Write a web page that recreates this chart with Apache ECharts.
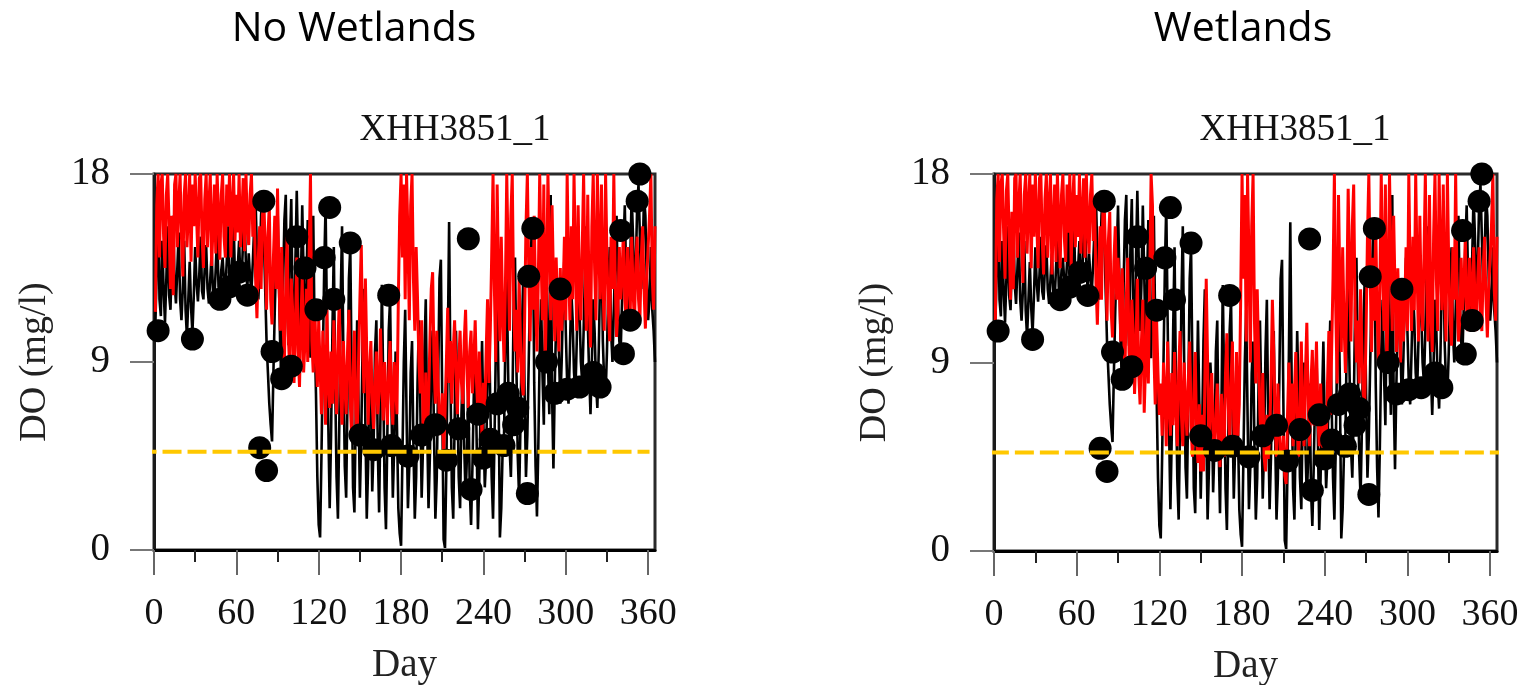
<!DOCTYPE html>
<html>
<head>
<meta charset="utf-8">
<script src="https://cdn.jsdelivr.net/npm/echarts@6/dist/echarts.min.js"></script>
<style>
  html, body { margin: 0; background: #fff; }
  #chart { width: 1530px; height: 685px; }
</style>
</head>
<body>
<div id="chart"></div>
<script>
// daily DO, black line (same in both panels), day 1..365
var black = [
  10.8, 13.5, 16.5, 12.0, 11.2, 14.8, 12.5, 10.9, 13.0, 15.5,
  12.2, 11.5, 14.0, 16.0, 12.8, 11.8, 13.5, 15.2, 12.0, 11.0,
  12.5, 14.8, 11.5, 10.2, 12.0, 13.8, 11.6, 10.4, 12.2, 14.5,
  12.8, 11.9, 13.2, 15.0, 12.4, 12.0, 13.6, 14.6, 12.5, 11.8,
  13.0, 14.2, 12.3, 12.0, 13.5, 15.2, 12.6, 12.2, 13.4, 14.0,
  12.8, 12.5, 13.8, 15.5, 13.0, 12.4, 14.0, 15.8, 13.0, 12.6,
  13.5, 14.8, 12.8, 13.2, 15.0, 16.2, 13.5, 12.5, 14.2, 13.0,
  12.4, 13.8, 15.5, 16.8, 14.2, 12.0, 13.5, 16.0, 17.2, 15.0,
  12.5, 10.0, 8.5, 7.0, 6.0, 5.2, 8.5, 11.5, 14.0, 16.5,
  13.0, 9.5, 8.0, 12.5, 15.8, 17.0, 12.0, 9.8, 14.5, 16.8,
  11.5, 9.0, 13.8, 17.2, 14.0, 10.5, 12.8, 16.5, 13.2, 10.0,
  12.5, 15.8, 11.0, 9.2, 12.0, 16.0, 10.5, 7.5, 3.5, 1.2,
  0.6, 4.5, 9.0, 13.5, 16.5, 11.0, 6.0, 2.0, 5.5, 10.5,
  14.5, 8.0, 3.5, 1.5, 6.0, 12.0, 15.5, 9.0, 4.0, 2.5,
  7.5, 13.0, 14.5, 8.5, 3.0, 1.8, 6.5, 11.0, 7.0, 2.5,
  5.5, 10.0, 12.5, 6.0, 1.5, 4.0, 9.0, 7.5, 2.8, 5.0,
  9.5, 11.0, 5.0, 1.8, 6.5, 12.7, 8.0, 3.0, 1.0, 5.5,
  10.5, 12.0, 7.0, 2.5, 5.0, 9.5, 6.0, 2.0, 0.8, 0.2,
  4.5, 9.0, 11.5, 6.5, 2.0, 4.0, 8.5, 10.0, 5.0, 1.5,
  3.5, 8.0, 11.0, 7.0, 2.5, 5.0, 9.5, 12.0, 6.0, 2.0,
  4.5, 9.0, 10.5, 5.5, 1.5, 3.5, 8.0, 13.0, 13.9, 7.0,
  0.5, 0.1, 4.0, 9.5, 15.7, 8.0, 3.0, 1.5, 6.0, 10.5,
  7.5, 3.5, 2.0, 6.5, 9.0, 5.0, 2.5, 4.5, 8.0, 3.0,
  1.2, 4.0, 7.5, 9.5, 5.5, 1.0, 3.5, 7.0, 10.0, 6.0,
  3.0, 4.5, 8.5, 11.0, 7.0, 3.5, 1.5, 5.0, 9.5, 12.5,
  8.0, 0.6, 2.0, 4.8, 5.5, 10.0, 13.0, 8.5, 5.0, 3.5,
  6.5, 11.5, 14.0, 9.0, 4.5, 2.5, 6.0, 10.5, 13.0, 7.5,
  3.5, 5.5, 9.0, 12.5, 15.0, 15.9, 8.0, 4.0, 1.6, 5.0,
  9.5, 12.0, 8.5, 6.0, 11.5, 13.5, 9.0, 6.5, 17.0, 7.5,
  3.9, 8.0, 11.0, 12.5, 9.5, 7.0, 9.0, 12.0, 14.0, 10.5,
  8.0, 7.0, 9.5, 12.5, 11.0, 8.5, 7.5, 10.0, 13.0, 11.5,
  9.0, 8.0, 10.5, 13.5, 15.5, 11.0, 8.5, 6.5, 9.0, 12.0,
  10.5, 8.0, 6.8, 9.5, 13.0, 15.0, 10.0, 8.0, 7.4, 9.5,
  12.5, 14.5, 10.5, 9.0, 11.5, 14.0, 16.0, 12.0, 10.0, 9.5,
  12.0, 14.5, 16.5, 13.0, 10.5, 11.0, 14.0, 17.0, 15.0, 12.0,
  13.5, 16.5, 17.5, 15.0, 12.5, 14.0, 17.0, 16.0, 13.0, 11.0,
  12.0, 14.5, 11.5, 10.5, 9.0
];

// daily DO, red line, "No Wetlands"
var redNoWet = [
  11.4, 16.5, 18.0, 14.0, 17.5, 18.0, 15.0, 13.5, 17.0, 18.0,
  15.5, 12.5, 16.0, 12.2, 17.5, 18.0, 14.5, 16.5, 18.0, 15.0,
  13.1, 17.0, 18.0, 14.5, 16.0, 18.0, 13.8, 17.5, 15.5, 18.0,
  16.0, 14.0, 17.8, 18.0, 15.0, 13.5, 16.8, 18.0, 14.5, 16.5,
  18.0, 13.6, 15.5, 17.5, 14.2, 18.0, 16.0, 13.9, 17.0, 18.0,
  15.0, 14.0, 17.5, 15.5, 18.0, 14.0, 16.5, 18.0, 14.8, 17.0,
  15.2, 18.0, 14.5, 16.0, 17.8, 14.3, 18.0, 15.5, 14.6, 17.0,
  18.0, 15.0, 16.5, 13.0, 11.1, 14.0, 15.5, 12.5, 16.0, 16.8,
  14.5, 11.5, 15.0, 16.5, 12.0, 10.8, 14.0, 16.0, 12.5, 17.3,
  13.0, 10.5, 14.5, 11.0, 9.0, 12.5, 15.0, 10.0, 8.5, 13.0,
  11.5, 8.0, 10.5, 14.0, 9.5, 7.8, 11.0, 13.0, 8.5, 10.0,
  12.5, 9.0, 14.0, 18.0, 10.0, 8.5, 12.0, 9.5, 7.8, 11.0,
  8.8, 6.5, 10.5, 9.0, 6.0, 11.5, 8.0, 6.8, 9.5, 7.0,
  11.0, 8.5, 6.5, 9.8, 12.0, 7.5, 6.0, 10.0, 8.0, 6.5,
  9.5, 11.5, 7.0, 5.5, 8.5, 10.5, 6.5, 5.0, 9.0, 12.0,
  14.6, 10.0, 7.5, 13.0, 9.5, 6.0, 8.5, 10.0, 7.0, 5.8,
  8.0, 9.5, 6.5, 7.5, 10.6, 8.0, 6.2, 9.0, 7.5, 6.0,
  8.5, 10.0, 7.0, 6.0, 9.0, 8.0, 6.5, 12.0, 16.0, 18.0,
  14.0, 17.5, 12.0, 18.0, 15.0, 11.0, 16.5, 18.0, 13.0, 10.5,
  14.5, 12.0, 9.0, 7.5, 11.0, 6.0, 5.0, 8.5, 5.6, 7.0,
  10.0, 12.5, 13.3, 9.0, 7.0, 10.5, 8.0, 6.0, 5.5, 7.5,
  4.6, 6.5, 9.0, 11.6, 8.0, 10.0, 7.0, 9.5, 11.0, 8.5,
  6.5, 9.0, 10.5, 8.0, 7.0, 10.0, 11.5, 8.5, 6.8, 9.5,
  10.5, 7.5, 9.0, 11.0, 8.0, 6.5, 9.5, 7.0, 5.5, 8.0,
  6.5, 9.5, 12.0, 8.0, 10.5, 14.0, 18.0, 12.5, 9.0, 17.5,
  13.0, 10.0, 15.0, 11.5, 9.0, 12.5, 18.0, 14.0, 10.5, 16.0,
  18.0, 12.0, 9.5, 11.5, 8.5, 13.0, 10.0, 8.0, 7.4, 11.0,
  15.5, 18.0, 13.5, 10.0, 14.5, 11.5, 16.0, 12.0, 9.5, 13.0,
  18.0, 14.0, 11.0, 17.5, 8.7, 12.5, 18.0, 14.5, 11.0, 16.5,
  13.0, 10.0, 14.0, 11.5, 9.5, 13.5, 10.5, 12.0, 15.0, 11.0,
  18.0, 13.5, 11.0, 15.5, 12.0, 18.0, 14.0, 10.5, 16.5, 12.5,
  11.0, 14.5, 18.0, 13.0, 10.5, 17.0, 12.0, 9.7, 15.5, 18.0,
  13.5, 11.0, 18.0, 14.5, 12.0, 17.5, 13.0, 10.5, 18.0, 14.0,
  11.5, 10.0, 15.0, 12.5, 18.0, 13.0, 10.2, 11.5, 14.5, 12.0,
  13.0, 15.4, 12.0, 11.0, 14.5, 13.0, 11.5, 15.0, 12.5, 10.8,
  13.5, 15.0, 12.0, 11.0, 14.0, 15.5, 12.5, 10.6, 13.0, 14.5,
  16.0, 18.0, 13.0, 11.5, 15.5
];

// daily DO, red line, "Wetlands"
var redWet = [
  11.0, 16.8, 18.0, 13.8, 17.5, 18.0, 15.2, 13.0, 17.2, 18.0,
  15.0, 12.0, 16.2, 12.5, 17.8, 18.0, 14.0, 16.5, 18.0, 14.8,
  12.8, 17.0, 18.0, 14.2, 16.5, 18.0, 13.5, 17.5, 15.0, 18.0,
  15.8, 13.5, 17.8, 18.0, 14.8, 13.2, 16.8, 18.0, 14.0, 16.5,
  18.0, 13.2, 15.5, 17.5, 13.8, 18.0, 15.8, 13.5, 17.0, 18.0,
  15.0, 13.8, 17.5, 15.2, 18.0, 13.6, 16.5, 18.0, 14.5, 17.0,
  15.0, 18.0, 14.2, 16.0, 17.8, 14.0, 18.0, 15.5, 14.2, 17.0,
  18.0, 14.8, 16.5, 12.8, 10.8, 13.5, 15.5, 12.0, 16.2, 16.5,
  14.0, 11.0, 14.8, 16.2, 11.5, 10.2, 13.8, 15.5, 12.0, 14.0,
  12.5, 10.0, 13.5, 10.5, 8.5, 12.0, 14.0, 9.5, 8.0, 12.0,
  10.5, 7.5, 9.5, 13.0, 8.5, 7.0, 10.0, 12.0, 6.6, 9.0,
  11.5, 8.0, 13.0, 18.0, 16.5, 9.5, 7.0, 11.0, 8.5, 6.5,
  8.0, 5.5, 9.0, 7.5, 5.0, 10.0, 7.0, 5.5, 8.5, 6.0,
  9.5, 7.0, 5.0, 8.5, 10.5, 6.5, 5.0, 9.0, 7.0, 5.5,
  8.0, 10.0, 6.0, 4.5, 7.5, 9.5, 5.5, 4.2, 7.0, 3.8,
  6.5, 3.8, 8.0, 13.0, 9.0, 5.0, 7.0, 8.5, 5.5, 4.5,
  6.5, 8.0, 5.0, 4.0, 7.5, 6.0, 4.5, 8.5, 10.4, 7.0,
  5.0, 8.0, 10.0, 6.0, 4.5, 9.5, 5.5, 7.0, 12.0, 18.0,
  13.0, 17.0, 10.0, 18.0, 14.0, 9.0, 15.5, 18.0, 11.0, 8.0,
  12.5, 9.5, 6.5, 5.0, 8.5, 4.5, 3.8, 6.5, 4.4, 5.5,
  8.0, 12.0, 9.5, 6.0, 4.5, 8.0, 6.0, 4.5, 4.0, 5.5,
  3.6, 3.2, 6.5, 9.0, 6.0, 8.0, 5.0, 7.5, 9.5, 6.0,
  4.5, 7.0, 10.0, 6.5, 5.0, 8.5, 10.9, 7.0, 5.0, 8.0,
  9.6, 6.0, 7.5, 10.0, 6.5, 5.0, 8.0, 5.5, 4.5, 6.5,
  5.0, 8.0, 10.5, 6.5, 9.5, 13.0, 18.0, 11.5, 8.0, 17.0,
  12.5, 9.5, 14.5, 11.0, 8.5, 12.0, 17.3, 13.5, 10.0, 15.5,
  17.5, 11.5, 9.0, 11.0, 8.0, 12.5, 9.5, 7.5, 7.0, 10.5,
  15.0, 18.0, 13.0, 9.5, 14.0, 11.0, 15.5, 11.5, 9.0, 12.5,
  18.0, 13.5, 10.5, 17.5, 8.5, 12.0, 18.0, 14.0, 10.5, 16.0,
  12.5, 9.5, 13.5, 11.0, 9.0, 13.0, 10.0, 11.5, 14.5, 10.5,
  18.0, 13.0, 10.5, 15.0, 11.5, 18.0, 13.5, 10.0, 16.0, 12.0,
  10.5, 14.0, 18.0, 12.5, 10.0, 17.0, 11.5, 9.5, 15.0, 18.0,
  13.0, 10.5, 18.0, 14.0, 11.5, 17.5, 12.5, 10.0, 18.0, 13.5,
  11.0, 9.8, 14.5, 12.0, 18.0, 12.5, 10.0, 11.0, 14.0, 11.5,
  12.5, 15.0, 11.5, 10.5, 14.0, 12.5, 11.0, 14.5, 12.0, 10.5,
  13.0, 14.5, 11.5, 10.5, 13.5, 15.0, 12.0, 10.2, 12.5, 14.0,
  15.5, 18.0, 12.5, 11.0, 15.0
];

// observed DO (dots)
var obsDay = [3, 28, 48, 55, 62, 68, 77, 80, 82, 86, 93, 100, 104, 110, 118, 124, 128, 131,
  143, 150, 160, 171, 173, 185, 195, 205, 213, 222, 229, 231, 236, 240, 245, 250, 255, 258,
  262, 265, 272, 273, 276, 286, 292, 296, 301, 310, 320, 325, 340, 342, 347, 352, 354];
var obsDO = [10.5, 10.1, 12.0, 12.6, 13.3, 12.2, 4.9, 16.7, 3.8, 9.5, 8.2, 8.8, 15.0, 13.5, 11.5, 14.0, 16.4, 12.0,
  14.7, 5.5, 4.8, 12.2, 5.0, 4.5, 5.5, 6.0, 4.3, 5.8, 14.9, 2.9, 6.5, 4.4, 5.3, 7.0, 5.0, 7.5,
  6.0, 6.8, 2.7, 13.1, 15.4, 9.0, 7.5, 12.5, 7.7, 7.8, 8.5, 7.8, 15.3, 9.4, 11.0, 16.7, 18.0];

// DO standard (dashed line) and its drawn extent in days
var doStandard = 4.7;
var stdSpanNoWet = [-12, 361];
var stdSpanWet = [-3, 370];

var xMajor = [0, 60, 120, 180, 240, 300, 360];
var xMinor = [30, 90, 150, 210, 270, 330];
var panelTitles = ['No Wetlands', 'Wetlands'];
var stationName = 'XHH3851_1';

var days = black.map(function (v, i) { return i + 1; });

function pairs(xs, ys) {
  return ys.map(function (v, i) { return [xs[i], v]; });
}

var serif = '"Liberation Serif", "Times New Roman", serif';
var chart = echarts.init(document.getElementById('chart'));

var grids = [
  { left: 154, top: 174, width: 501, height: 376 },
  { left: 994, top: 174, width: 503, height: 377 }
];
var xAxes = [], yAxes = [], series = [];

grids.forEach(function (g, k) {
  g.show = true;
  g.borderColor = '#2a2a2a';
  g.borderWidth = 3;
  g.containLabel = false;
  g.outerBoundsMode = 'none';

  xAxes.push({
    type: 'value', gridIndex: k, min: 0, max: 365, position: 'bottom',
    axisLine: { show: true, onZero: false, lineStyle: { color: '#000', width: 3 } },
    axisTick: { show: true, customValues: xMajor, length: 25, lineStyle: { color: '#666', width: 2 } },
    axisLabel: { customValues: xMajor, margin: 45, fontFamily: serif, fontSize: 38, color: '#111' },
    splitLine: { show: false },
    name: 'Day', nameLocation: 'middle', nameGap: 96,
    nameTextStyle: { fontFamily: serif, fontSize: 39, color: '#222' }
  });
  xAxes.push({
    type: 'value', gridIndex: k, min: 0, max: 365, position: 'bottom',
    axisLine: { show: false },
    axisTick: { show: true, customValues: xMinor, length: 12, lineStyle: { color: '#222', width: 2 } },
    axisLabel: { show: false },
    splitLine: { show: false }
  });
  yAxes.push({
    type: 'value', gridIndex: k, min: 0, max: 18, interval: 9,
    axisLine: { show: true, onZero: false, lineStyle: { color: '#1a1a1a', width: 3 } },
    axisTick: { show: true, length: 24, lineStyle: { color: '#777', width: 2 } },
    axisLabel: { margin: 44, fontFamily: serif, fontSize: 39, color: '#111' },
    splitLine: { show: false },
    name: 'DO (mg/l)', nameLocation: 'middle', nameGap: 100,
    nameTextStyle: { fontFamily: serif, fontSize: 38, color: '#222' }
  });

  var red = k === 0 ? redNoWet : redWet;
  var span = k === 0 ? stdSpanNoWet : stdSpanWet;
  var xi = k * 2;

  series.push({
    type: 'line', xAxisIndex: xi, yAxisIndex: k, data: pairs(days, black),
    symbol: 'none', lineStyle: { color: '#000', width: 2.6 }, z: 2
  });
  series.push({
    type: 'line', xAxisIndex: xi, yAxisIndex: k, data: pairs(days, red),
    symbol: 'none', lineStyle: { color: '#ff0000', width: 3 }, z: 3
  });
  series.push({
    type: 'scatter', xAxisIndex: xi, yAxisIndex: k, data: pairs(obsDay, obsDO),
    symbol: 'circle', symbolSize: 23, itemStyle: { color: '#000', opacity: 1 }, clip: false, z: 4
  });
  series.push({
    type: 'line', xAxisIndex: xi, yAxisIndex: k,
    data: [[span[0], doStandard], [span[1], doStandard]],
    symbol: 'none', clip: false,
    lineStyle: { color: '#ffc800', width: 4, type: [19, 6] }, z: 5
  });
});

var titleFont = { fontFamily: '"Open Sans", sans-serif', fontSize: 41, fontWeight: 'normal', color: '#000' };
var subFont = { fontFamily: serif, fontSize: 37, fontWeight: 'normal', color: '#111' };

var option = {
  animation: false,
  backgroundColor: '#fff',
  title: [
    { text: panelTitles[0], left: 354, top: 9, textAlign: 'center', padding: 0, textStyle: titleFont },
    { text: panelTitles[1], left: 1243, top: 9, textAlign: 'center', padding: 0, textStyle: titleFont },
    { text: stationName, left: 455, top: 112, textAlign: 'center', padding: 0, textStyle: subFont },
    { text: stationName, left: 1295, top: 112, textAlign: 'center', padding: 0, textStyle: subFont }
  ],
  grid: grids,
  xAxis: xAxes,
  yAxis: yAxes,
  series: series
};

chart.setOption(option);
window.addEventListener('resize', chart.resize);
</script>
</body>
</html>
